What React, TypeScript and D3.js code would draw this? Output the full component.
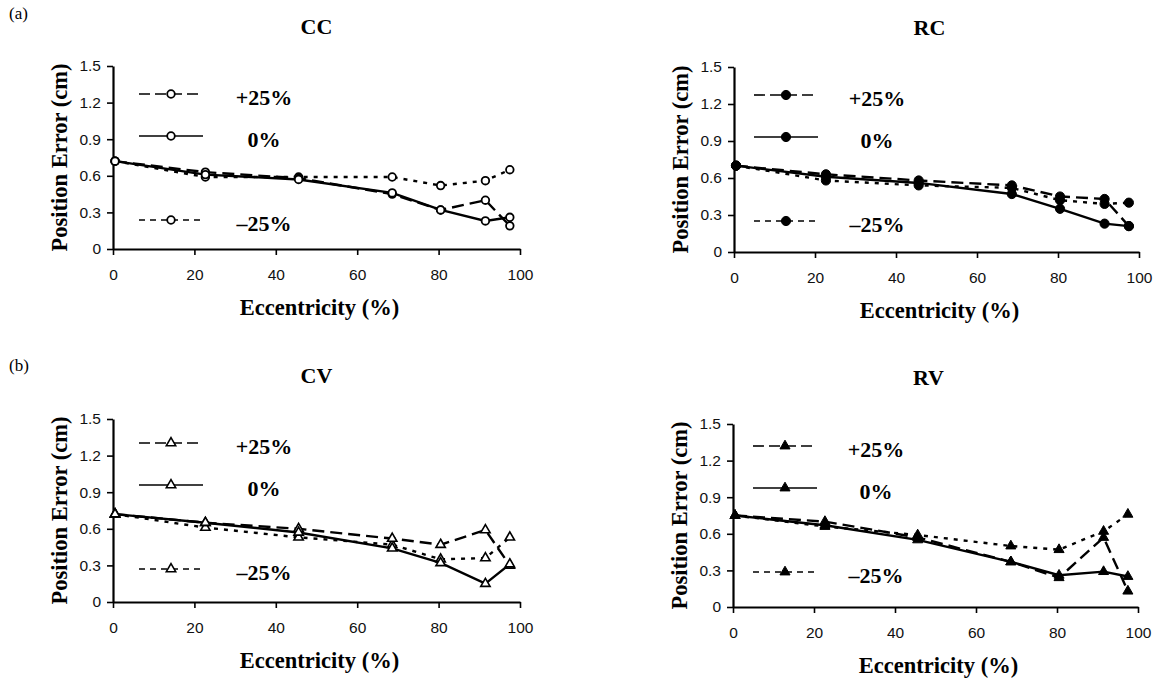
import { useRef, useEffect } from 'react'
import * as d3 from 'd3'

// eccentricity (%) of the sampled positions, shared by every panel
const ECCENTRICITY = [0.5, 22.7, 45.6, 68.6, 80.5, 91.5, 97.5]
const SERIES_LABELS = ['+25%', '0%', '–25%']
const X_TICKS = [0, 20, 40, 60, 80, 100]
const Y_TICKS = [0, 0.3, 0.6, 0.9, 1.2, 1.5]

// position error (cm)
const CC_PLUS = [0.72, 0.63, 0.58, 0.45, 0.32, 0.40, 0.19]
const CC_ZERO = [0.72, 0.61, 0.57, 0.46, 0.32, 0.23, 0.26]
const CC_MINUS = [0.72, 0.59, 0.59, 0.59, 0.52, 0.56, 0.65]

const RC_PLUS = [0.70, 0.63, 0.58, 0.54, 0.45, 0.43, 0.21]
const RC_ZERO = [0.70, 0.61, 0.56, 0.47, 0.35, 0.23, 0.21]
const RC_MINUS = [0.70, 0.58, 0.54, 0.52, 0.42, 0.39, 0.40]

const CV_PLUS = [0.72, 0.65, 0.60, 0.52, 0.47, 0.59, 0.30]
const CV_ZERO = [0.72, 0.65, 0.57, 0.44, 0.32, 0.15, 0.31]
const CV_MINUS = [0.72, 0.61, 0.53, 0.47, 0.35, 0.36, 0.53]

const RV_PLUS = [0.75, 0.70, 0.57, 0.37, 0.24, 0.57, 0.13]
const RV_ZERO = [0.75, 0.67, 0.55, 0.37, 0.26, 0.29, 0.25]
const RV_MINUS = [0.75, 0.66, 0.59, 0.50, 0.47, 0.62, 0.76]

const SERIF = "'Liberation Serif', 'Times New Roman', serif"
const SANS = "'Liberation Sans', Arial, sans-serif"

const PLOT_DASH = ['12,6', null, '4,6']
const LEGEND_DASH = ['11,5', null, '6,5']

const PANELS = [
  { title: 'CC', tag: '(a)', tagY: 19, series: [CC_PLUS, CC_ZERO, CC_MINUS], shape: 'circle', filled: false,
    left: 113, right: 520, top: 66, bottom: 249, titleY: 34, titleDx: 0, legendTop: 28, legendX: 26, labelX: 151 },
  { title: 'RC', tag: '', tagY: 0, series: [RC_PLUS, RC_ZERO, RC_MINUS], shape: 'circle', filled: true,
    left: 734, right: 1139, top: 67, bottom: 252, titleY: 35, titleDx: -7, legendTop: 28, legendX: 20, labelX: 143 },
  { title: 'CV', tag: '(b)', tagY: 371, series: [CV_PLUS, CV_ZERO, CV_MINUS], shape: 'triangle', filled: false,
    left: 113, right: 520, top: 419, bottom: 602, titleY: 383, titleDx: 0, legendTop: 24, legendX: 26, labelX: 151 },
  { title: 'RV', tag: '', tagY: 0, series: [RV_PLUS, RV_ZERO, RV_MINUS], shape: 'triangle', filled: true,
    left: 733, right: 1138, top: 424, bottom: 607, titleY: 385, titleDx: -7, legendTop: 22, legendX: 20, labelX: 143 },
]

export default function App() {
  const svgRef = useRef<SVGSVGElement>(null)

  useEffect(() => {
    if (!svgRef.current) return
    const svg = d3.select(svgRef.current)
    svg.selectAll('*').remove()

    const drawMarker = (g: d3.Selection<SVGGElement, unknown, null, undefined>, p: typeof PANELS[number], cx: number, cy: number) => {
      if (p.shape === 'circle') {
        g.append('circle')
          .attr('cx', cx).attr('cy', cy)
          .attr('r', p.filled ? 4.6 : 3.8)
          .attr('fill', p.filled ? '#000' : '#fff')
          .attr('stroke', '#000').attr('stroke-width', p.filled ? 1 : 1.8)
      } else {
        g.append('path')
          .attr('transform', `translate(${cx},${cy})`)
          .attr('d', d3.symbol().type(d3.symbolTriangle).size(p.filled ? 44 : 38)()!)
          .attr('fill', p.filled ? '#000' : '#fff')
          .attr('stroke', '#000').attr('stroke-width', p.filled ? 1 : 1.6)
      }
    }

    for (const p of PANELS) {
      const x = d3.scaleLinear().domain([0, 100]).range([p.left, p.right])
      const y = d3.scaleLinear().domain([0, 1.5]).range([p.bottom, p.top])
      const g = svg.append('g')

      if (p.tag) {
        svg.append('text').attr('x', 9).attr('y', p.tagY)
          .style('font-family', SERIF).style('font-size', '17px').text(p.tag)
      }

      // title
      g.append('text')
        .attr('x', (p.left + p.right) / 2 + p.titleDx).attr('y', p.titleY)
        .attr('text-anchor', 'middle')
        .style('font-family', SERIF).style('font-size', '22px').style('font-weight', 'bold')
        .text(p.title)

      // axes
      const xAxis = g.append('g')
        .attr('transform', `translate(0,${p.bottom})`)
        .call(d3.axisBottom(x).tickValues(X_TICKS).tickSize(6).tickSizeOuter(0).tickPadding(14).tickFormat(d3.format('d')))
      const yAxis = g.append('g')
        .attr('transform', `translate(${p.left},0)`)
        .call(d3.axisLeft(y).tickValues(Y_TICKS).tickSize(6).tickSizeOuter(0).tickPadding(6)
          .tickFormat(d => (d === 0 ? '0' : d3.format('.1f')(d as number))))
      for (const a of [xAxis, yAxis]) {
        a.select('.domain').attr('stroke', '#000').attr('stroke-width', 2.2)
        a.selectAll('.tick line').attr('stroke', '#000').attr('stroke-width', 1.6)
        a.selectAll('.tick text').style('font-family', SANS).style('font-size', '15.5px').attr('fill', '#111')
      }

      // axis labels
      g.append('text')
        .attr('x', (p.left + p.right) / 2 + 3).attr('y', p.bottom + 66)
        .attr('text-anchor', 'middle')
        .style('font-family', SERIF).style('font-size', '22.5px').style('font-weight', 'bold')
        .text('Eccentricity (%)')
      g.append('text')
        .attr('transform', `translate(${p.left - 46},${(p.top + p.bottom) / 2}) rotate(-90)`)
        .attr('text-anchor', 'middle')
        .style('font-family', SERIF).style('font-size', '22.5px').style('font-weight', 'bold')
        .text('Position Error (cm)')

      // series, dotted first so the solid line sits on top
      const line = d3.line<number>().x((_, i) => x(ECCENTRICITY[i])).y(d => y(d))
      ;[2, 0, 1].forEach(si => {
        const vals = p.series[si]
        g.append('path')
          .attr('d', line(vals)!)
          .attr('fill', 'none').attr('stroke', '#000').attr('stroke-width', 2.4)
          .attr('stroke-dasharray', PLOT_DASH[si])
        vals.forEach((v, i) => drawMarker(g, p, x(ECCENTRICITY[i]), y(v)))
      })

      // legend
      const legendOffsets = [0, 42, 126]
      SERIES_LABELS.forEach((label, si) => {
        const ly = p.top + p.legendTop + legendOffsets[si]
        g.append('line')
          .attr('x1', p.left + p.legendX).attr('x2', p.left + p.legendX + 64)
          .attr('y1', ly).attr('y2', ly)
          .attr('stroke', '#000').attr('stroke-width', 1.6)
          .attr('stroke-dasharray', LEGEND_DASH[si])
        drawMarker(g, p, p.left + p.legendX + 32, ly)
        g.append('text')
          .attr('x', p.left + p.labelX).attr('y', ly + 11)
          .attr('text-anchor', 'middle')
          .style('font-family', SERIF).style('font-size', '22px').style('font-weight', 'bold')
          .text(label)
      })
    }
  }, [])

  return (
    <div style={{ position: 'absolute', left: 0, top: 0 }}>
      <svg ref={svgRef} width={1163} height={680} style={{ display: 'block', background: '#fff' }} />
    </div>
  )
}
